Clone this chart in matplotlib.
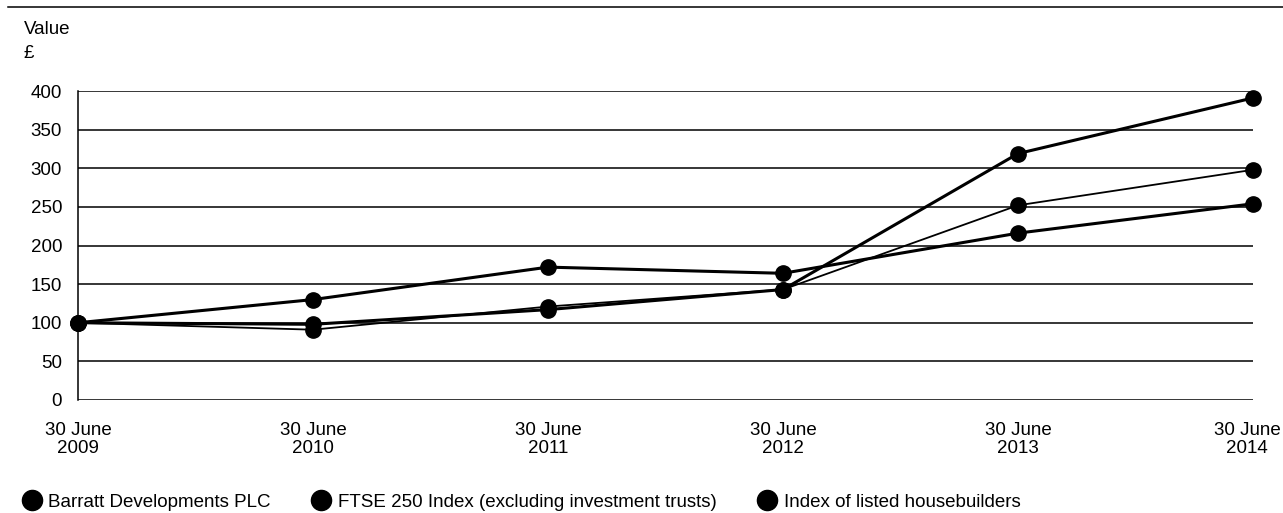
import matplotlib
matplotlib.use('Agg')
import matplotlib.pyplot as plt
from matplotlib.lines import Line2D
from matplotlib.transforms import ScaledTranslation

plt.rcParams['font.family'] = ['Liberation Sans', 'DejaVu Sans']

dates = ['30 June\n2009', '30 June\n2010', '30 June\n2011',
         '30 June\n2012', '30 June\n2013', '30 June\n2014']
barratt = [100, 98, 117, 143, 319, 391]
ftse250 = [100, 130, 172, 164, 216, 254]
housebuilders = [100, 91, 121, 143, 252, 298]
labels = ['Barratt Developments PLC',
          'FTSE 250 Index (excluding investment trusts)',
          'Index of listed housebuilders']
yticks = [0, 50, 100, 150, 200, 250, 300, 350, 400]

W, H = 1283, 513
fs = 13.5
fig = plt.figure(figsize=(W / 100, H / 100), dpi=100)
ax = fig.add_axes([78 / W, 1 - 400 / H, (1253 - 78) / W, (400 - 91) / H])

x = range(len(dates))
ax.plot(x, housebuilders, color='black', lw=1.3, marker='o', ms=11,
        clip_on=False, zorder=3)
ax.plot(x, ftse250, color='black', lw=2.2, marker='o', ms=11,
        clip_on=False, zorder=4)
ax.plot(x, barratt, color='black', lw=2.2, marker='o', ms=11,
        clip_on=False, zorder=5)

ax.set_xlim(0, len(dates) - 1)
ax.set_ylim(0, 400)
ax.set_yticks(yticks)
ax.set_xticks(list(x))
ax.set_xticklabels(dates, linespacing=1.05)
ax.tick_params(axis='both', length=0, labelsize=fs, colors='black')
ax.tick_params(axis='y', pad=11.5)
ax.tick_params(axis='x', pad=16)
# last label sits a bit left so it stays inside the picture
last = ax.get_xticklabels()[-1]
last.set_transform(last.get_transform() + ScaledTranslation(-6 / 100, 0, fig.dpi_scale_trans))
for t in yticks:
    ax.axhline(t, color='black', lw=1.1, zorder=1)
for s in ['top', 'right', 'bottom']:
    ax.spines[s].set_visible(False)
ax.spines['left'].set_linewidth(1.1)

fig.text(24 / W, 1 - 29 / H, 'Value', fontsize=fs, va='center', ha='left')
fig.text(24 / W, 1 - 53 / H, '£', fontsize=fs, va='center', ha='left')
fig.add_artist(Line2D([8 / W, 1], [1 - 7 / H, 1 - 7 / H], color='black', lw=1.1))

handles = [Line2D([], [], color='black', marker='o', ls='none', ms=14.5) for _ in labels]
fig.legend(handles, labels, loc='center left', bbox_to_anchor=(24 / W, 1 - 502 / H),
           ncol=3, frameon=False, fontsize=fs, handlelength=0.85,
           handletextpad=0.45, columnspacing=2.27, borderpad=0, borderaxespad=0)

fig.savefig('out.png', dpi=100)
